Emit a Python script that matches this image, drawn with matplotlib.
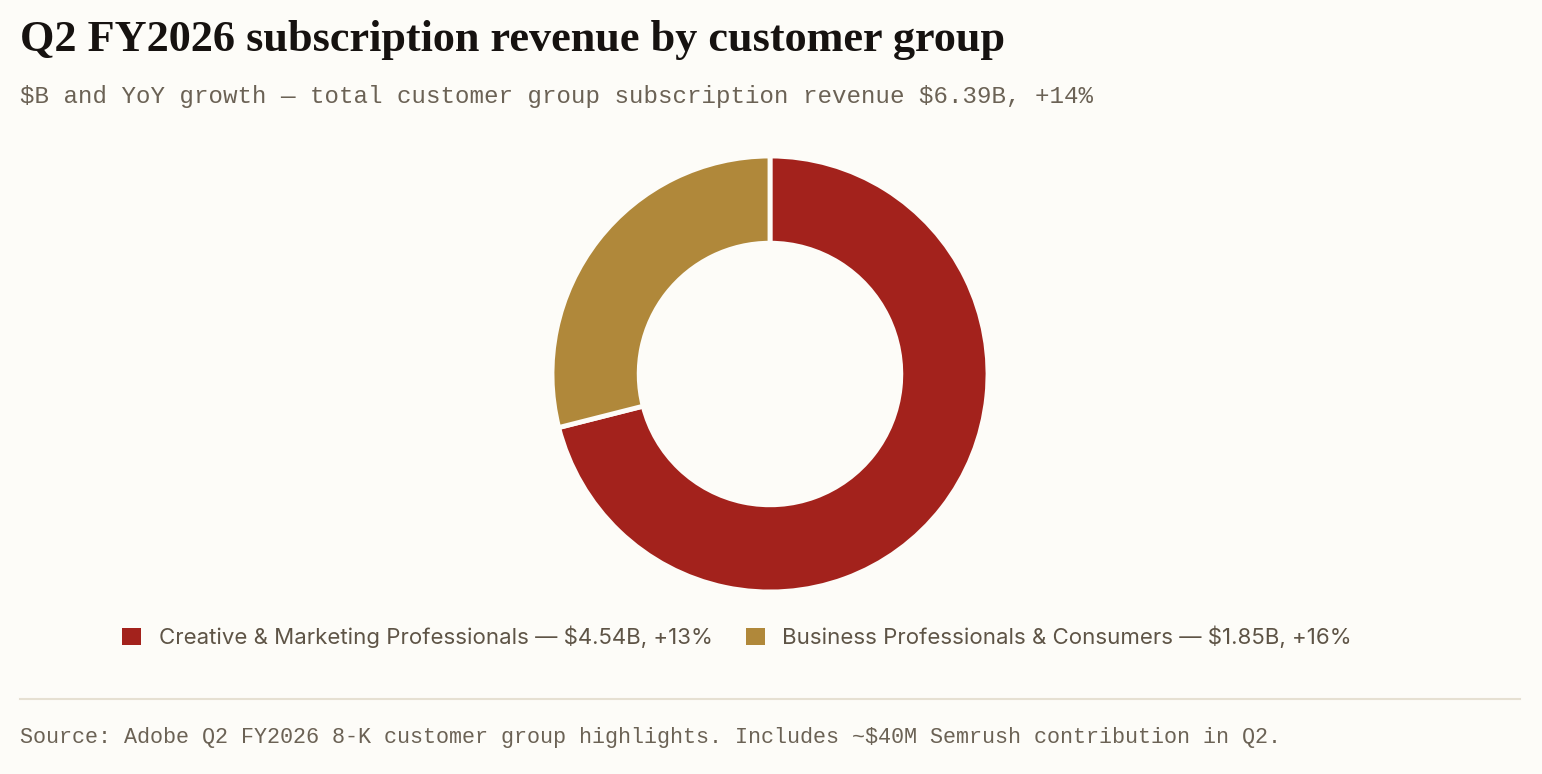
import matplotlib.pyplot as plt
from matplotlib.patches import Patch
from matplotlib.lines import Line2D

# data
groups = ["Creative & Marketing Professionals", "Business Professionals & Consumers"]
revenue_b = [4.54, 1.85]
yoy_growth = [13, 16]
colors = ["#A3221C", "#B0883A"]

bg = "#FDFCF8"
W, H = 1542, 774

fig = plt.figure(figsize=(W / 100, H / 100), dpi=100, facecolor=bg)

# donut: centre ~ (770, 374), outer radius ~218 px
cx, cy, r = 770, 374, 218
ax = fig.add_axes([(cx - r) / W, 1 - (cy + r) / H, 2 * r / W, 2 * r / H])
ax.set_facecolor(bg)
ax.pie(revenue_b, colors=colors, startangle=90, counterclock=False,
       radius=1.0, wedgeprops=dict(width=0.4, edgecolor=bg, linewidth=3.5))
ax.set_xlim(-1, 1)
ax.set_ylim(-1, 1)
ax.set_aspect("equal")
ax.axis("off")

# titles
fig.text(20 / W, 1 - 40 / H, "Q2 FY2026 subscription revenue by customer group",
         fontfamily="Liberation Serif", fontweight="bold", fontsize=31.9,
         color="#161210", va="center", ha="left")
fig.text(20 / W, 1 - 97 / H,
         r"\$B and YoY growth — total customer group subscription revenue \$6.39B, +14%",
         fontfamily="Liberation Mono", fontsize=17.4, color="#6B6255",
         va="center", ha="left")

# legend
labels = [f"{g} — \\${v:.2f}B, +{p}%" for g, v, p in zip(groups, revenue_b, yoy_growth)]
handles = [Patch(facecolor=c, edgecolor="none") for c in colors]
fig.legend(handles, labels, loc="center", bbox_to_anchor=(737 / W, 1 - 637 / H),
           ncol=2, frameon=False, handlelength=0.85, handleheight=0.85,
           handletextpad=0.8, columnspacing=1.5,
           prop=dict(family="Inter", size=16), labelcolor="#5E5446")

# rule and source
fig.add_artist(Line2D([20 / W, 1520 / W], [1 - 699 / H, 1 - 699 / H],
                      color="#E6E0D2", linewidth=1.5))
fig.text(20 / W, 1 - 737 / H,
         r"Source: Adobe Q2 FY2026 8-K customer group highlights. Includes ~\$40M Semrush contribution in Q2.",
         fontfamily="Liberation Mono", fontsize=15.7, color="#6B6255",
         va="center", ha="left")

fig.savefig("out.png", dpi=100, facecolor=bg)
